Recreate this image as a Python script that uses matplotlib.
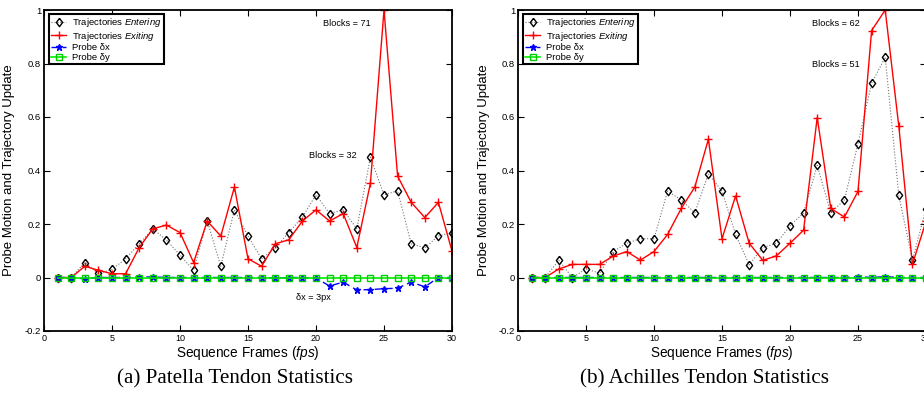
import matplotlib
matplotlib.use("Agg")
import matplotlib.pyplot as plt

plt.rcParams['font.family'] = ['Liberation Sans', 'DejaVu Sans']
plt.rcParams['mathtext.fontset'] = 'custom'
plt.rcParams['mathtext.it'] = 'Liberation Sans:italic'
plt.rcParams['mathtext.rm'] = 'Liberation Sans'

frames = list(range(1, 31))

patella_entering = [0, 0, 0.056, 0.015, 0.03, 0.07, 0.126, 0.182, 0.14, 0.084,
                    0.027, 0.212, 0.042, 0.253, 0.155, 0.07, 0.111, 0.168, 0.226, 0.309,
                    0.239, 0.253, 0.182, 0.45, 0.309, 0.324, 0.126, 0.111, 0.155, 0.168]
patella_exiting = [0, 0, 0.042, 0.027, 0.014, 0.014, 0.112, 0.182, 0.196, 0.168,
                   0.056, 0.211, 0.155, 0.338, 0.07, 0.042, 0.126, 0.141, 0.211, 0.253,
                   0.211, 0.239, 0.112, 0.352, 1.0, 0.379, 0.281, 0.224, 0.281, 0.099]
patella_dx = [0, 0, -0.005, 0, 0, 0, 0.002, 0.002, 0, 0,
              0, 0, 0, 0, 0, 0, -0.002, 0, 0, -0.002,
              -0.032, -0.017, -0.047, -0.045, -0.042, -0.04, -0.017, -0.035, 0, 0]
patella_dy = [0] * 30

achilles_entering = [0, 0, 0.064, 0, 0.032, 0.016, 0.097, 0.128, 0.145, 0.145,
                     0.323, 0.29, 0.242, 0.387, 0.323, 0.161, 0.047, 0.112, 0.128, 0.193,
                     0.242, 0.419, 0.242, 0.29, 0.5, 0.726, 0.823, 0.307, 0.065, 0.257]
achilles_exiting = [0, 0, 0.032, 0.049, 0.049, 0.049, 0.08, 0.097, 0.065, 0.097,
                    0.161, 0.258, 0.338, 0.517, 0.145, 0.305, 0.128, 0.064, 0.081, 0.128,
                    0.177, 0.598, 0.258, 0.226, 0.322, 0.923, 1.0, 0.566, 0.049, 0.21]
achilles_dx = [0, 0, 0, 0, 0, 0, 0, 0, 0, 0,
               0, 0, 0, 0, 0, 0, 0, 0, 0, 0,
               0, 0, 0, 0, 0.003, 0, 0.003, 0, 0, 0]
achilles_dy = [0] * 30

xticks = [0, 5, 10, 15, 20, 25, 30]
yticks = [-0.2, 0, 0.2, 0.4, 0.6, 0.8, 1]
ytick_labels = ['-0.2', '0', '0.2', '0.4', '0.6', '0.8', '1']

diamond = [(0, 1), (0.75, 0), (0, -1), (-0.75, 0), (0, 1)]

fig = plt.figure(figsize=(9.24, 4.0), dpi=100)
W, H = 924, 400
ax1 = fig.add_axes([44 / W, (H - 331) / H, 408 / W, 321 / H])
ax2 = fig.add_axes([518 / W, (H - 331) / H, 408 / W, 321 / H])


def draw(ax, ent, ext, dx, dy, leg_x, ylab_x):
    ax.plot(frames, ent, linestyle=':', color='0.45', linewidth=0.8, marker=diamond,
            markersize=6, markerfacecolor='none', markeredgecolor='black',
            markeredgewidth=1.0, label='Trajectories $\\mathit{Entering}$')
    ax.plot(frames, ext, linestyle='-', color='red', linewidth=1.0, marker='+',
            markersize=5.5, markeredgewidth=1.0, label='Trajectories $\\mathit{Exiting}$')
    ax.plot(frames, dx, linestyle='--', color='blue', linewidth=1.0, marker='*',
            markersize=4.5, dashes=(5, 3), label='Probe δx')
    ax.plot(frames, dy, linestyle='-', color='#00ee00', linewidth=1.2, marker='s',
            markersize=3.8, markerfacecolor='none', markeredgecolor='#00cc00',
            label='Probe δy')
    ax.set_xlim(0, 30)
    ax.set_ylim(-0.2, 1)
    ax.set_xticks(xticks)
    ax.set_xticklabels([str(t) for t in xticks], fontsize=6.5)
    ax.set_yticks(yticks)
    ax.set_yticklabels(ytick_labels, fontsize=6.8)
    ax.tick_params(direction='in', top=True, right=True, length=4, width=0.8, pad=2)
    for s in ax.spines.values():
        s.set_linewidth(1.3)
    ax.set_xlabel('Sequence Frames ($\\mathit{fps}$)', fontsize=9.8, labelpad=1)
    ax.set_ylabel('Probe Motion and Trajectory Update', fontsize=9.5)
    ax.yaxis.set_label_coords(ylab_x, 0.5)
    leg = ax.legend(loc='upper left', bbox_to_anchor=(leg_x, 0.988), borderaxespad=0,
                    fontsize=6.8, fancybox=False, framealpha=1, edgecolor='black',
                    labelspacing=0.06, handlelength=1.6, handletextpad=0.6,
                    borderpad=0.25)
    leg.get_frame().set_linewidth(1.5)


draw(ax1, patella_entering, patella_exiting, patella_dx, patella_dy, 0.012, -0.071)
draw(ax2, achilles_entering, achilles_exiting, achilles_dx, achilles_dy, 0.0115, -0.069)

ax1.text(20.5, 0.948, 'Blocks = 71', fontsize=6.6, va='center', ha='left')
ax1.text(19.5, 0.457, 'Blocks = 32', fontsize=6.6, va='center', ha='left')
ax1.text(18.5, -0.076, 'δx = 3px', fontsize=6.6, va='center', ha='left')
ax2.text(21.6, 0.948, 'Blocks = 62', fontsize=6.6, va='center', ha='left')
ax2.text(21.6, 0.798, 'Blocks = 51', fontsize=6.6, va='center', ha='left')

fig.text(235 / W, 1 - 379 / H, '(a) Patella Tendon Statistics', fontsize=15.2,
         family=['Liberation Serif'], ha='center', va='center')
fig.text(705 / W, 1 - 379 / H, '(b) Achilles Tendon Statistics', fontsize=15.2,
         family=['Liberation Serif'], ha='center', va='center')

fig.savefig('out.png', dpi=100)
